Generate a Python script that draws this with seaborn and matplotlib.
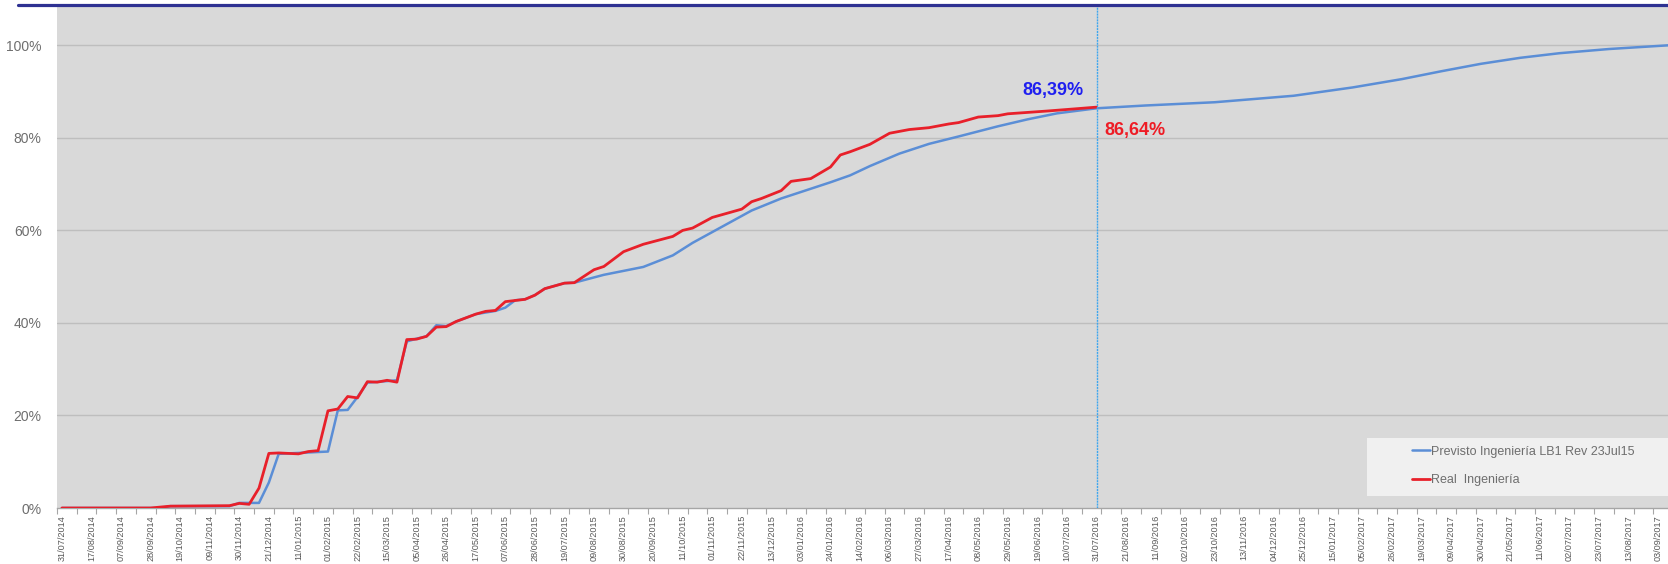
import matplotlib
matplotlib.use("Agg")
import matplotlib.pyplot as plt
from matplotlib.lines import Line2D
from matplotlib.patches import Rectangle
from matplotlib.ticker import FixedLocator
import seaborn as sns
import pandas as pd

# Semanas (posicion de categoria) y % avance
semanas_previsto = [0, 10, 11, 17, 18, 20, 21, 22, 25, 27, 28, 29, 30, 31, 34, 35, 36, 37, 38,
                    39, 40, 42, 44, 45, 46, 47, 48, 49, 51, 52, 55, 59, 62, 64, 67, 70, 73,
                    75, 78, 80, 82, 85, 88, 91, 95, 98, 101, 105, 110, 117, 125, 131, 136,
                    140, 144, 148, 152, 157, 163]
previsto = [0, 0, 0.4, 0.4, 1.1, 1.1, 5.5, 11.7, 12.0, 12.2, 21.1, 21.2, 24.0, 27.1, 27.6,
            36.0, 36.6, 37.1, 39.5, 39.3, 40.3, 41.9, 42.6, 43.3, 44.9, 45.1, 46.0, 47.4,
            48.6, 48.7, 50.4, 52.1, 54.6, 57.3, 60.8, 64.3, 66.9, 68.3, 70.4, 71.9, 73.9,
            76.6, 78.7, 80.3, 82.5, 84.0, 85.3, 86.39, 87.0, 87.7, 89.1, 90.9, 92.7, 94.4,
            96.0, 97.3, 98.3, 99.2, 100]

semanas_real = [0, 9, 11, 17, 18, 19, 20, 21, 22, 24, 25, 26, 27, 28, 29, 30, 31, 32, 33, 34,
                35, 36, 37, 38, 39, 40, 42, 43, 44, 45, 47, 48, 49, 51, 52, 54, 55, 57, 59,
                62, 63, 64, 66, 69, 70, 71, 73, 74, 76, 78, 79, 80, 82, 84, 86, 88, 90, 91,
                93, 95, 96, 100, 103, 105]
real = [0, 0, 0.4, 0.5, 1.0, 0.8, 4.3, 11.8, 11.9, 11.7, 12.2, 12.4, 21.0, 21.4, 24.1, 23.8,
        27.3, 27.2, 27.6, 27.2, 36.4, 36.5, 37.1, 39.1, 39.2, 40.3, 41.9, 42.5, 42.7, 44.6,
        45.1, 46.0, 47.4, 48.6, 48.7, 51.5, 52.2, 55.4, 57.0, 58.7, 60.0, 60.5, 62.8, 64.6,
        66.2, 66.9, 68.6, 70.6, 71.2, 73.7, 76.3, 77.0, 78.6, 81.0, 81.8, 82.2, 83.0, 83.3,
        84.5, 84.8, 85.2, 85.8, 86.3, 86.64]

fechas = ["31/07/2014", "17/08/2014", "07/09/2014", "28/09/2014", "19/10/2014", "09/11/2014",
          "30/11/2014", "21/12/2014", "11/01/2015", "01/02/2015", "22/02/2015", "15/03/2015",
          "05/04/2015", "26/04/2015", "17/05/2015", "07/06/2015", "28/06/2015", "19/07/2015",
          "09/08/2015", "30/08/2015", "20/09/2015", "11/10/2015", "01/11/2015", "22/11/2015",
          "13/12/2015", "03/01/2016", "24/01/2016", "14/02/2016", "06/03/2016", "27/03/2016",
          "17/04/2016", "08/05/2016", "29/05/2016", "19/06/2016", "10/07/2016", "31/07/2016",
          "21/08/2016", "11/09/2016", "02/10/2016", "23/10/2016", "13/11/2016", "04/12/2016",
          "25/12/2016", "15/01/2017", "05/02/2017", "26/02/2017", "19/03/2017", "09/04/2017",
          "30/04/2017", "21/05/2017", "11/06/2017", "02/07/2017", "23/07/2017", "13/08/2017",
          "03/09/2017"]
pos_fechas = [3 * i for i in range(len(fechas))]

semana_corte = 105
txt_previsto = "86,39%"
txt_real = "86,64%"
y_ticks = [0, 20, 40, 60, 80, 100]

sns.set_theme(style="white")
plt.rcParams['font.family'] = ['Liberation Sans', 'DejaVu Sans']

fig = plt.figure(figsize=(16.68, 5.64), dpi=100)
ax = fig.add_axes([57 / 1668, 1 - 508 / 564, 1 - 57 / 1668, 502 / 564])
ax.set_facecolor('#D9D9D9')

azul = '#5B8ED6'
rojo = '#E8202A'

df_p = pd.DataFrame({'semana': semanas_previsto, 'avance': previsto})
df_r = pd.DataFrame({'semana': semanas_real, 'avance': real})
sns.lineplot(data=df_p, x='semana', y='avance', ax=ax, color=azul, linewidth=1.8,
             label='Previsto Ingeniería LB1 Rev 23Jul15', zorder=3)
sns.lineplot(data=df_r, x='semana', y='avance', ax=ax, color=rojo, linewidth=2.0,
             label='Real  Ingeniería', zorder=4)

ax.set_xlim(-0.5, 163)
ax.set_ylim(0, 108.5)

# rejilla horizontal
for v in y_ticks[1:]:
    ax.axhline(v, color='#BEBEBE', linewidth=1.0, zorder=1)

ax.axvline(semana_corte, color='#3FA6EE', linewidth=1.0, linestyle=(0, (1.5, 0.6)), zorder=5)

ax.set_yticks(y_ticks)
ax.set_yticklabels([f"{v}%" for v in y_ticks], color='#6E6E6E', fontsize=10)
ax.tick_params(axis='y', length=0, pad=11)

ax.set_xticks(pos_fechas)
ax.set_xticklabels(fechas, rotation=90, fontsize=6.6, color='#595959', va='top')
ax.xaxis.set_minor_locator(FixedLocator([-0.5 + 2 * i for i in range(83)]))
ax.tick_params(axis='x', which='major', length=0, pad=5)
ax.tick_params(axis='x', which='minor', length=4, width=0.8, color='#A6A6A6', bottom=True)

for s in ['top', 'right', 'left']:
    ax.spines[s].set_visible(False)
ax.spines['bottom'].set_color('#A6A6A6')
ax.spines['bottom'].set_linewidth(1.0)

ax.set_xlabel('')
ax.set_ylabel('')

ax.text(100.6, 90.3, txt_previsto, color='#1F1FF0', fontsize=13, fontweight='bold',
        ha='center', va='center', zorder=6)
ax.text(108.9, 81.6, txt_real, color='#EE1C25', fontsize=13, fontweight='bold',
        ha='center', va='center', zorder=6)

# caja de leyenda
ax.add_patch(Rectangle((0.813, 0.024), 0.187, 0.115, transform=ax.transAxes,
                       facecolor='#F0F0F0', edgecolor='none', zorder=6))
leg = ax.legend(loc='upper left', bbox_to_anchor=(0.841, 0.124), frameon=False,
                fontsize=9, handlelength=1.45, handletextpad=0.1, borderpad=0,
                borderaxespad=0, labelspacing=1.3)
leg.set_zorder(7)
for t in leg.get_texts():
    t.set_color('#6E6E6E')

# linea azul superior
fig.add_artist(Line2D([18 / 1668, 1.0], [1 - 4.5 / 564, 1 - 4.5 / 564],
                      transform=fig.transFigure, color='#2E3192', linewidth=2.3))

fig.savefig('out.png', dpi=100, facecolor='white')
